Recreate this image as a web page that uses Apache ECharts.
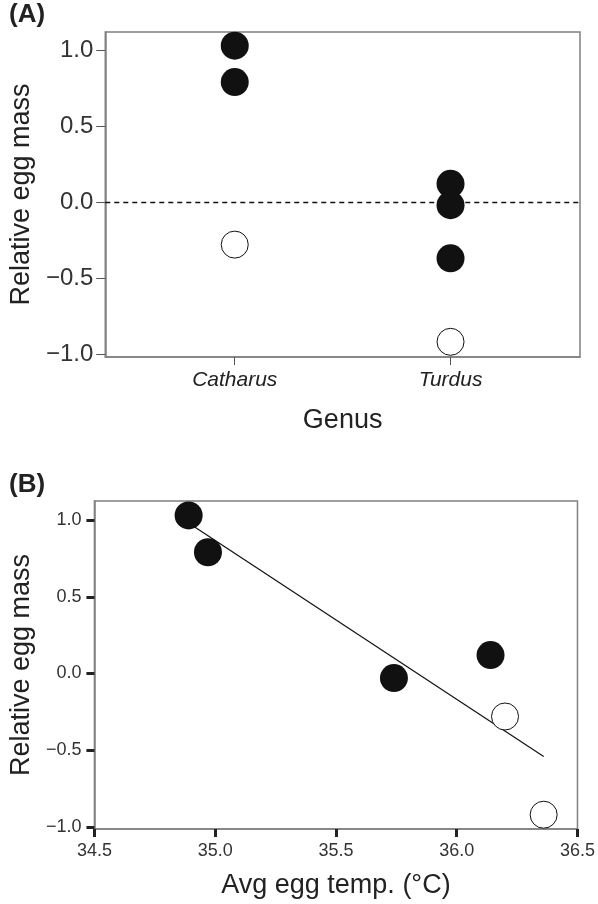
<!DOCTYPE html>
<html>
<head>
<meta charset="utf-8">
<script src="https://cdn.jsdelivr.net/npm/echarts@6/dist/echarts.min.js"></script>
<style>
  html, body { margin: 0; padding: 0; background: #fff; }
</style>
</head>
<body>
<div id="main" style="width: 598px; height: 904px"></div>
<script>
// panel A: relative egg mass by genus
const genera = ['Catharus', 'Turdus'];
const filledGenus = [0, 0, 1, 1, 1];
const filledMassA = [1.03, 0.79, 0.12, -0.02, -0.37];
const openGenus = [0, 1];
const openMassA = [-0.28, -0.92];

// panel B: relative egg mass vs average egg temperature
const filledTemp = [34.89, 34.97, 35.74, 36.14];
const filledMassB = [1.03, 0.79, -0.03, 0.12];
const openTemp = [36.20, 36.36];
const openMassB = [-0.28, -0.92];
const fitTemp = [34.89, 36.36];
const fitMass = [0.98, -0.54];

const massTicks = [-1, -0.5, 0, 0.5, 1];

const font = 'Liberation Sans, Arial, sans-serif';
const fmt = v => v.toFixed(1).replace('-', '\u2212');
const zip = (xs, ys) => xs.map((x, i) => [x, ys[i]]);

var chartDom = document.getElementById('main');
var myChart = echarts.init(chartDom);
var option;

option = {
    backgroundColor: '#fff',
    animation: false,
    textStyle: { fontFamily: font },
    graphic: [
        { type: 'text', left: 9, top: 2, style: { text: '(A)', font: 'bold 26px ' + font, fill: '#222' } },
        { type: 'text', left: 9, top: 472, style: { text: '(B)', font: 'bold 26px ' + font, fill: '#222' } }
    ],
    grid: [
        { left: 100, top: 32, width: 480, height: 325, show: true, borderColor: '#808080', borderWidth: 1.5 },
        { left: 93, top: 501, width: 487, height: 328, show: true, borderColor: '#808080', borderWidth: 1.5 }
    ],
    xAxis: [
        {
            gridIndex: 0,
            type: 'value',
            min: -0.6,
            max: 1.6,
            name: 'Genus',
            nameLocation: 'middle',
            nameGap: 50,
            nameTextStyle: { fontSize: 27, color: '#222' },
            splitLine: { show: false },
            axisLine: { onZero: false, lineStyle: { color: '#808080', width: 1.5 } },
            axisTick: { customValues: [0, 1], length: 8, lineStyle: { color: '#555', width: 1 } },
            axisLabel: {
                customValues: [0, 1],
                formatter: v => genera[Math.round(v)],
                fontSize: 21,
                fontStyle: 'italic',
                color: '#222',
                margin: 13
            }
        },
        {
            gridIndex: 1,
            type: 'value',
            min: 34.5,
            max: 36.5,
            interval: 0.5,
            name: 'Avg egg temp. (°C)',
            nameLocation: 'middle',
            nameGap: 43,
            nameTextStyle: { fontSize: 27, color: '#222' },
            splitLine: { show: false },
            axisLine: { onZero: false, lineStyle: { color: '#808080', width: 1.5 } },
            axisTick: { length: 8, lineStyle: { color: '#222', width: 3 } },
            axisLabel: { formatter: fmt, fontSize: 18, color: '#333', margin: 13 }
        }
    ],
    yAxis: [
        {
            gridIndex: 0,
            type: 'value',
            min: -1.02,
            max: 1.12,
            name: 'Relative egg mass',
            nameLocation: 'middle',
            nameGap: 62,
            nameTextStyle: { fontSize: 27, color: '#222' },
            splitLine: { show: false },
            axisLine: { onZero: false, lineStyle: { color: '#808080', width: 1.5 } },
            axisTick: { customValues: massTicks, length: 9, lineStyle: { color: '#555', width: 1 } },
            axisLabel: { customValues: massTicks, formatter: fmt, fontSize: 24, color: '#333', margin: 12 }
        },
        {
            gridIndex: 1,
            type: 'value',
            min: -1.013,
            max: 1.124,
            name: 'Relative egg mass',
            nameLocation: 'middle',
            nameGap: 59,
            nameTextStyle: { fontSize: 27, color: '#222' },
            splitLine: { show: false },
            axisLine: { onZero: false, lineStyle: { color: '#808080', width: 1.5 } },
            axisTick: { customValues: massTicks, length: 8, lineStyle: { color: '#222', width: 3 } },
            axisLabel: { customValues: massTicks, formatter: fmt, fontSize: 18, color: '#333', margin: 13 }
        }
    ],
    series: [
        {
            type: 'scatter',
            xAxisIndex: 0,
            yAxisIndex: 0,
            symbolSize: 28,
            itemStyle: { color: '#111', opacity: 1 },
            data: zip(filledGenus, filledMassA),
            markLine: {
                silent: true,
                symbol: 'none',
                label: { show: false },
                lineStyle: { color: '#111', width: 1.3, type: [5, 4] },
                data: [{ yAxis: 0 }]
            },
            z: 3
        },
        {
            type: 'scatter',
            xAxisIndex: 0,
            yAxisIndex: 0,
            symbolSize: 27,
            itemStyle: { color: '#fff', borderColor: '#111', borderWidth: 1, opacity: 1 },
            data: zip(openGenus, openMassA),
            z: 3
        },
        {
            type: 'line',
            xAxisIndex: 1,
            yAxisIndex: 1,
            showSymbol: false,
            lineStyle: { color: '#111', width: 1.2 },
            data: zip(fitTemp, fitMass),
            z: 2
        },
        {
            type: 'scatter',
            xAxisIndex: 1,
            yAxisIndex: 1,
            symbolSize: 28,
            itemStyle: { color: '#111', opacity: 1 },
            data: zip(filledTemp, filledMassB),
            z: 3
        },
        {
            type: 'scatter',
            xAxisIndex: 1,
            yAxisIndex: 1,
            symbolSize: 27,
            itemStyle: { color: '#fff', borderColor: '#111', borderWidth: 1, opacity: 1 },
            data: zip(openTemp, openMassB),
            z: 3
        }
    ]
};

option && myChart.setOption(option);
</script>
</body>
</html>
